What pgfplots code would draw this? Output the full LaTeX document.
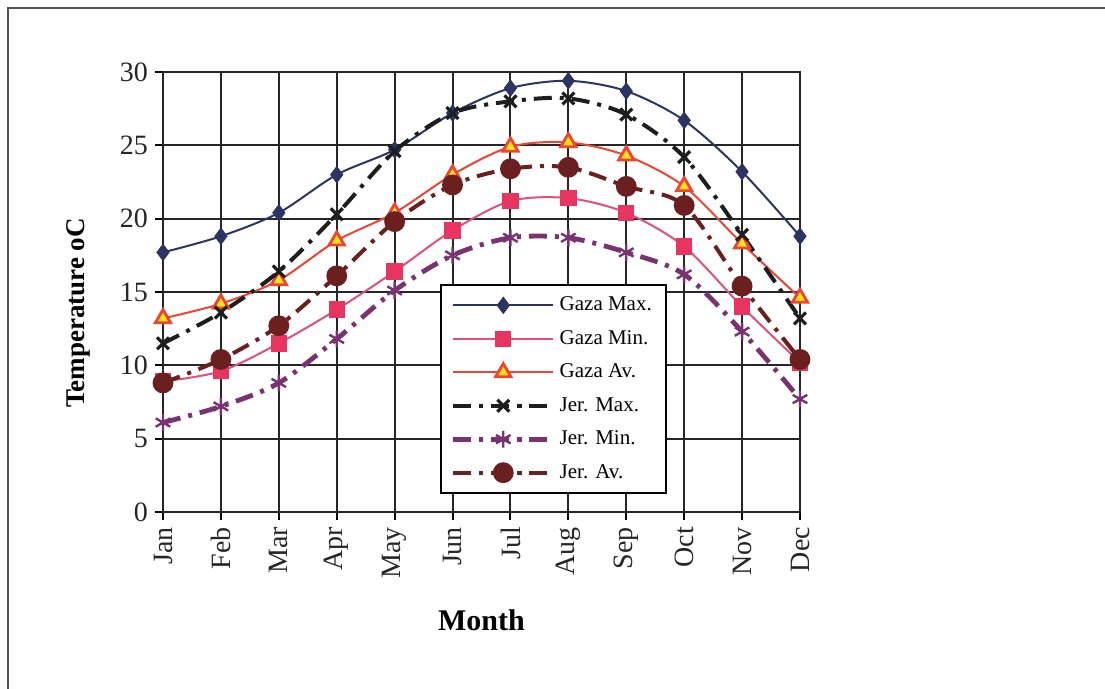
\documentclass[border=0pt]{standalone}
\usepackage{pgfplots}
\pgfplotsset{compat=1.18}
\usepackage{fontspec}
\setmainfont{Liberation Serif}

\definecolor{gazamax}{HTML}{2B3463}
\definecolor{gazamin}{HTML}{E8355F}
\definecolor{gazaminline}{HTML}{E2507A}
\definecolor{gazaav}{HTML}{EE4433}
\definecolor{gazaavfill}{HTML}{FFE21A}
\definecolor{jermax}{HTML}{1E1E1E}
\definecolor{jermin}{HTML}{7A3270}
\definecolor{jerav}{HTML}{6B1F1F}
\definecolor{framegray}{HTML}{555555}

\begin{document}
\begin{tikzpicture}
\useasboundingbox (0,0) rectangle (552.5pt,-344.5pt);
\draw[framegray, line width=1pt] (4pt,-344.5pt) -- (4pt,-4pt) -- (552.5pt,-4pt);

\begin{axis}[
    at={(81.5pt,-256pt)},
    anchor=south west,
    scale only axis,
    width=318.5pt,
    height=220pt,
    xmin=0, xmax=11,
    ymin=0, ymax=30,
    xtick={0,...,11},
    xticklabels={Jan,Feb,Mar,Apr,May,Jun,Jul,Aug,Sep,Oct,Nov,Dec},
    ytick={0,5,10,15,20,25,30},
    xticklabel style={rotate=90, anchor=east, font=\fontsize{14}{14}\selectfont, text=black!85},
    yticklabel style={font=\fontsize{14}{14}\selectfont, text=black!85},
    /pgf/number format/assume math mode=true,
    tick pos=left,
    tick align=outside,
    major tick length=4pt,
    tick style={black, line width=1pt},
    grid=major,
    grid style={black!85, line width=1pt},
    axis line style={black!85, line width=1pt},
    xlabel={\textbf{Month}},
    xlabel style={at={(axis description cs:0.5,-0.245)}, anchor=center, font=\fontsize{15}{15}\selectfont},
    ylabel={\textbf{Temperature oC}},
    ylabel style={at={(axis description cs:-0.132,0.452)}, anchor=center, font=\fontsize{13.5}{13.5}\selectfont},
    legend style={
      at={(rel axis cs:0.435,0.518)},
      anchor=north west,
      draw=black, line width=0.8pt,
      fill=white,
      font=\fontsize{10.5}{10.5}\selectfont,
      row sep=4.3pt,
      inner xsep=5pt, inner ysep=4pt,
      cells={anchor=west},
    },
    legend image code/.code={
      \draw[mark repeat=2, mark phase=2] plot coordinates {(0pt,0pt) (25pt,0pt) (50pt,0pt)};
    },
    clip=false,
]

% Gaza Max.
\addplot[smooth, color=gazamax, line width=1pt, mark=diamond*, mark size=3.6pt,
  mark options={solid, fill=gazamax, draw=gazamax}] coordinates {
  (0,17.7) (1,18.8) (2,20.4) (3,23.0) (4,24.7) (5,27.2)
  (6,28.9) (7,29.4) (8,28.7) (9,26.7) (10,23.2) (11,18.8)
};
\addlegendentry{Gaza Max.}

% Gaza Min.
\addplot[smooth, color=gazaminline, line width=1pt, mark=square*, mark size=3.6pt,
  mark options={solid, fill=gazamin, draw=gazamin}] coordinates {
  (0,8.9) (1,9.6) (2,11.5) (3,13.8) (4,16.4) (5,19.2)
  (6,21.2) (7,21.4) (8,20.4) (9,18.1) (10,14.0) (11,10.2)
};
\addlegendentry{Gaza Min.}

% Gaza Av.
\addplot[smooth, color=gazaav, line width=1pt, mark=triangle*, mark size=4.4pt,
  mark options={solid, fill=gazaavfill, draw=gazaav, line width=1.4pt}] coordinates {
  (0,13.2) (1,14.2) (2,15.8) (3,18.5) (4,20.4) (5,23.0)
  (6,24.9) (7,25.2) (8,24.3) (9,22.2) (10,18.3) (11,14.6)
};
\addlegendentry{Gaza Av.}

% Jer. Max.
\addplot[smooth, color=jermax, line width=2pt,
  dash pattern=on 9pt off 4pt on 2pt off 4pt,
  mark=x, mark size=4.2pt, mark options={solid, line width=1.6pt}] coordinates {
  (0,11.5) (1,13.6) (2,16.4) (3,20.3) (4,24.6) (5,27.2)
  (6,28.0) (7,28.2) (8,27.1) (9,24.2) (10,18.9) (11,13.2)
};
\addlegendentry{Jer. Max.}

% Jer. Min.
\addplot[smooth, color=jermin, line width=2.4pt,
  dash pattern=on 9pt off 4pt on 2pt off 4pt,
  mark=asterisk, mark size=4.2pt, mark options={solid, line width=1.2pt}] coordinates {
  (0,6.1) (1,7.2) (2,8.8) (3,11.8) (4,15.1) (5,17.5)
  (6,18.7) (7,18.7) (8,17.7) (9,16.2) (10,12.3) (11,7.7)
};
\addlegendentry{Jer. Min.}

% Jer. Av.
\addplot[smooth, color=jerav, line width=2pt,
  dash pattern=on 9pt off 4pt on 2pt off 4pt,
  mark=*, mark size=4.2pt, mark options={solid, fill=jerav, draw=jerav}] coordinates {
  (0,8.8) (1,10.4) (2,12.7) (3,16.1) (4,19.8) (5,22.3)
  (6,23.4) (7,23.5) (8,22.2) (9,20.9) (10,15.4) (11,10.4)
};
\addlegendentry{Jer. Av.}

\end{axis}
\end{tikzpicture}
\end{document}
